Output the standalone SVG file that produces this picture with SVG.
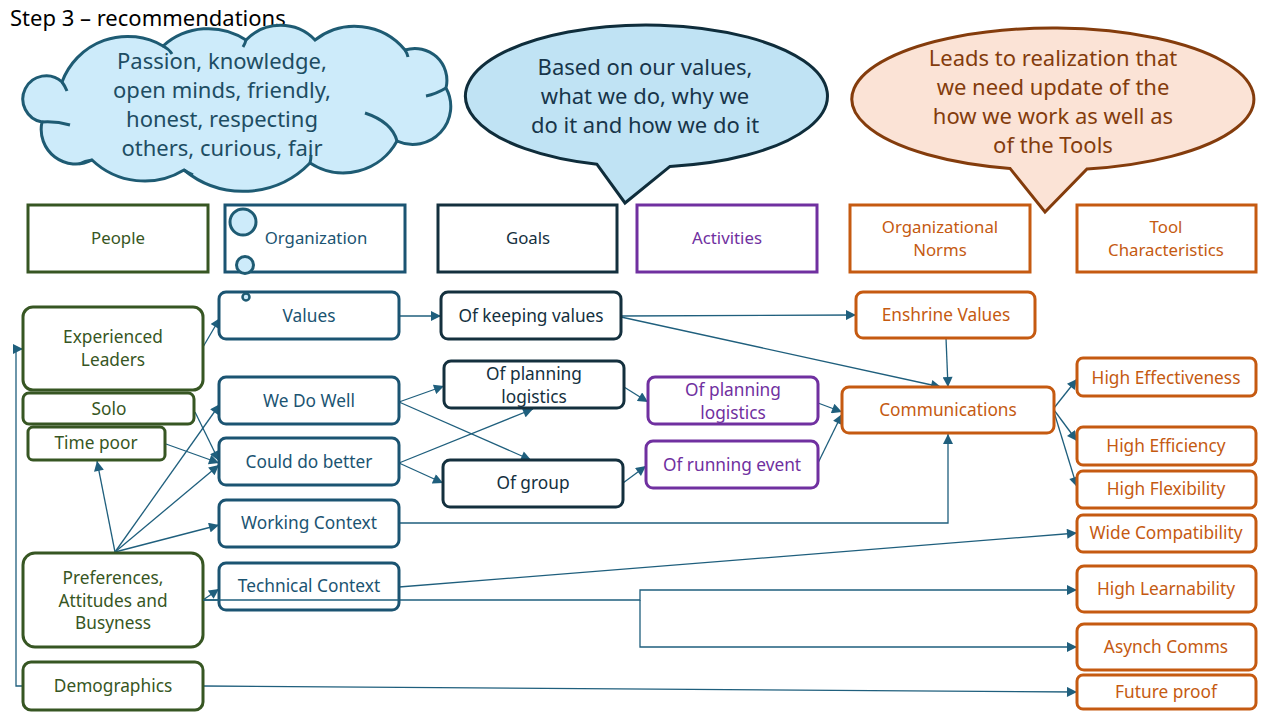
<svg xmlns="http://www.w3.org/2000/svg" width="1280" height="720" viewBox="0 0 1280 720">
<defs>
<style>
text{font-family:"Noto Sans","Open Sans","DejaVu Sans",sans-serif;}
.t{font-size:17.3px;text-anchor:middle;}
.h{font-size:16.8px;text-anchor:middle;}
.big{font-size:22px;text-anchor:middle;}
.hdr{fill:#fff;stroke-width:3;}
.nd{fill:#fff;stroke-width:3;}
.g{stroke:#375623;} .gt{fill:#375623;}
.o{stroke:#1B5472;} .ot{fill:#1B5472;}
.k{stroke:#14303E;} .kt{fill:#14303E;}
.p{stroke:#7030A0;} .pt{fill:#7030A0;}
.r{stroke:#C55A11;} .rt{fill:#C55A11;}
.c{fill:none;stroke:#1F5F7D;stroke-width:1.3;marker-end:url(#ar);}
.cn{fill:none;stroke:#1F5F7D;stroke-width:1.3;}
</style>
<marker id="ar" viewBox="0 0 10 10" refX="10" refY="5" markerWidth="11" markerHeight="10" markerUnits="userSpaceOnUse" orient="auto">
<path d="M0 0 L10 5 L0 10 Z" fill="#1F5F7D"/>
</marker>
</defs>
<rect width="1280" height="720" fill="#fff"/>
<text x="10" y="26" style="font-size:22px;fill:#000;">Step 3 – recommendations</text>

<g id="cloud">
<path d="M62 82 A70 70 0 0 1 163 46 A68 68 0 0 1 246 40 A48 48 0 0 1 315 40 A65 65 0 0 1 405 50 A32 32 0 0 1 446 88 A38 38 0 0 1 397 141 A61 61 0 0 1 310 163 A93 93 0 0 1 184 170 A76 76 0 0 1 92 160 A34.6 34.6 0 0 1 42 122 A23.3 23.3 0 1 1 62 82 Z" fill="#CDEBFA" stroke="#1E5B73" stroke-width="3"/>
<path d="M62 82 q3 4 5 9 M163 46 q6 3 9 8 M246 40 q-1 4 -3 7 M405 50 q2 3 3 7 M446 88 q-10 6 -20 8 M365 113 Q392 122 397 141 M310 163 q1 -4 1 -8 M184 170 q4 3 9 5 M92 160 q-7 1 -13 4 M42 122 q14 -1 28 3" fill="none" stroke="#1E5B73" stroke-width="3"/>
<text class="big" x="222" y="69" fill="#1D4D63">Passion, knowledge,</text>
<text class="big" x="222" y="98" fill="#1D4D63">open minds, friendly,</text>
<text class="big" x="222" y="127" fill="#1D4D63">honest, respecting</text>
<text class="big" x="222" y="156" fill="#1D4D63">others, curious, fair</text>
</g>

<g id="bubble-values">
<path d="M670 166.4 A181 71 0 1 0 597 164.3 L625 203 Z" fill="#C0E3F4" stroke="#0F2D3B" stroke-width="3" stroke-linejoin="miter"/>
<text class="big" x="645" y="75" fill="#17354A">Based on our values,</text>
<text class="big" x="645" y="104" fill="#17354A">what we do, why we</text>
<text class="big" x="645" y="133" fill="#17354A">do it and how we do it</text>
</g>

<g id="bubble-realization">
<path d="M1087 169 A201 71 0 1 0 1010 168.4 L1045 212 Z" fill="#FBE3D6" stroke="#843C0C" stroke-width="3"/>
<text class="big" x="1053" y="66" fill="#843C0C">Leads to realization that</text>
<text class="big" x="1053" y="95" fill="#843C0C">we need update of the</text>
<text class="big" x="1053" y="124" fill="#843C0C">how we work as well as</text>
<text class="big" x="1053" y="153" fill="#843C0C">of the Tools</text>
</g>

<g id="hdr-people"><rect class="hdr g" x="28" y="205" width="180" height="67"/><text class="h gt" x="118" y="244">People</text></g>
<g id="hdr-organization"><rect class="hdr o" x="225" y="205" width="180" height="67"/><text class="h ot" x="316" y="244">Organization</text></g>
<g id="hdr-goals"><rect class="hdr k" x="438" y="205" width="179" height="67"/><text class="h kt" x="528" y="244">Goals</text></g>
<g id="hdr-activities"><rect class="hdr p" x="637" y="205" width="180" height="67"/><text class="h pt" x="727" y="244">Activities</text></g>
<g id="hdr-norms"><rect class="hdr r" x="850" y="205" width="180" height="67"/><text class="h rt" x="940" y="233">Organizational</text><text class="h rt" x="940" y="256">Norms</text></g>
<g id="hdr-tools"><rect class="hdr r" x="1077" y="205" width="179" height="67"/><text class="h rt" x="1166" y="233">Tool</text><text class="h rt" x="1166" y="256">Characteristics</text></g>

<g id="connectors">
<path class="c" d="M23 686 H16 V349 H23"/>
<path class="c" d="M203 347 L220 318"/>
<path class="c" d="M195 412 L219 461"/>
<path class="c" d="M166 444 L219 463"/>
<path class="c" d="M115 552 L97 461"/>
<path class="c" d="M115 552 L220 404"/>
<path class="c" d="M115 552 L219 465"/>
<path class="c" d="M115 552 L219 525"/>
<path class="c" d="M203 600 L219 589"/>
<path class="c" d="M399 316 L441 316"/>
<path class="c" d="M399 402 L444 386"/>
<path class="c" d="M399 402 L531 460"/>
<path class="c" d="M399 463 L533 409"/>
<path class="c" d="M399 463 L443 483"/>
<path class="c" d="M621 316 L856 315"/>
<path class="c" d="M621 317 L941 387"/>
<path class="c" d="M946 338 L948 387"/>
<path class="c" d="M624 387 L648 402"/>
<path class="c" d="M623 483 L646 466"/>
<path class="c" d="M818 403 L842 412"/>
<path class="c" d="M818 463 L842 414"/>
<path class="c" d="M399 523 H948 V434"/>
<path class="c" d="M399 587 L1077 533"/>
<path class="c" d="M203 600 H640 V590 H1077"/>
<path class="c" d="M640 600 V647 H1077"/>
<path class="c" d="M203 686 L1077 692"/>
<path class="c" d="M1054 408 L1077 379"/>
<path class="c" d="M1054 410 L1077 441"/>
<path class="c" d="M1054 412 L1077 487"/>
</g>

<g id="n-experienced"><rect class="nd g" x="23" y="307" width="180" height="83" rx="10"/><text class="t gt" x="113" y="343">Experienced</text><text class="t gt" x="113" y="366">Leaders</text></g>
<g id="n-solo"><rect class="nd g" x="23" y="393" width="171" height="31" rx="6"/><text class="t gt" x="109" y="415">Solo</text></g>
<g id="n-timepoor"><rect class="nd g" x="28" y="427" width="137" height="33" rx="5"/><text class="t gt" x="96" y="449">Time poor</text></g>
<g id="n-preferences"><rect class="nd g" x="23" y="553" width="180" height="94" rx="12"/><text class="t gt" x="113" y="584">Preferences,</text><text class="t gt" x="113" y="607">Attitudes and</text><text class="t gt" x="113" y="629">Busyness</text></g>
<g id="n-demographics"><rect class="nd g" x="23" y="662" width="180" height="48" rx="8"/><text class="t gt" x="113" y="692">Demographics</text></g>

<g id="n-values"><rect class="nd o" x="219" y="292" width="180" height="47" rx="7"/><text class="t ot" x="309" y="322">Values</text></g>
<g id="n-wedowell"><rect class="nd o" x="219" y="377" width="180" height="47" rx="7"/><text class="t ot" x="309" y="407">We Do Well</text></g>
<g id="n-coulddobetter"><rect class="nd o" x="219" y="438" width="180" height="47" rx="7"/><text class="t ot" x="309" y="468">Could do better</text></g>
<g id="n-working"><rect class="nd o" x="219" y="500" width="180" height="47" rx="7"/><text class="t ot" x="309" y="529">Working Context</text></g>
<g id="n-technical"><rect class="nd o" x="219" y="563" width="180" height="47" rx="7"/><text class="t ot" x="309" y="592">Technical Context</text></g>
<path class="cn" d="M203 600 H399"/>

<g id="n-keeping"><rect class="nd k" x="441" y="292" width="180" height="47" rx="7"/><text class="t kt" x="531" y="322">Of keeping values</text></g>
<g id="n-goal-planning"><rect class="nd k" x="444" y="361" width="180" height="47" rx="7"/><text class="t kt" x="534" y="380">Of planning</text><text class="t kt" x="534" y="403">logistics</text></g>
<g id="n-group"><rect class="nd k" x="443" y="460" width="180" height="47" rx="7"/><text class="t kt" x="533" y="489">Of group</text></g>

<g id="n-act-planning"><rect class="nd p" x="648" y="377" width="170" height="47" rx="7"/><text class="t pt" x="733" y="396">Of planning</text><text class="t pt" x="733" y="419">logistics</text></g>
<g id="n-running"><rect class="nd p" x="646" y="441" width="172" height="47" rx="7"/><text class="t pt" x="732" y="471">Of running event</text></g>

<g id="n-enshrine"><rect class="nd r" x="856" y="292" width="179" height="46" rx="7"/><text class="t rt" x="946" y="321">Enshrine Values</text></g>
<g id="n-communications"><rect class="nd r" x="842" y="387" width="212" height="46" rx="7"/><text class="t rt" x="948" y="416">Communications</text></g>

<g id="n-effectiveness"><rect class="nd r" x="1077" y="358" width="179" height="38" rx="6"/><text class="t rt" x="1166" y="384">High Effectiveness</text></g>
<g id="n-efficiency"><rect class="nd r" x="1077" y="427" width="179" height="38" rx="6"/><text class="t rt" x="1166" y="452">High Efficiency</text></g>
<g id="n-flexibility"><rect class="nd r" x="1077" y="471" width="179" height="37" rx="6"/><text class="t rt" x="1166" y="495">High Flexibility</text></g>
<g id="n-compat"><rect class="nd r" x="1077" y="515" width="179" height="37" rx="6"/><text class="t rt" x="1166" y="539">Wide Compatibility</text></g>
<g id="n-learn"><rect class="nd r" x="1077" y="566" width="179" height="46" rx="7"/><text class="t rt" x="1166" y="595">High Learnability</text></g>
<g id="n-asynch"><rect class="nd r" x="1077" y="624" width="179" height="46" rx="7"/><text class="t rt" x="1166" y="653">Asynch Comms</text></g>
<g id="n-future"><rect class="nd r" x="1077" y="675" width="179" height="34" rx="6"/><text class="t rt" x="1166" y="698">Future proof</text></g>

<g id="thought-circles">
<circle cx="243" cy="222" r="13" fill="#CDEBFA" stroke="#1E5B73" stroke-width="3"/>
<circle cx="245" cy="265" r="8.5" fill="#CDEBFA" stroke="#1E5B73" stroke-width="3"/>
<circle cx="246" cy="297" r="3.5" fill="#CDEBFA" stroke="#1E5B73" stroke-width="2.5"/>
</g>
</svg>
